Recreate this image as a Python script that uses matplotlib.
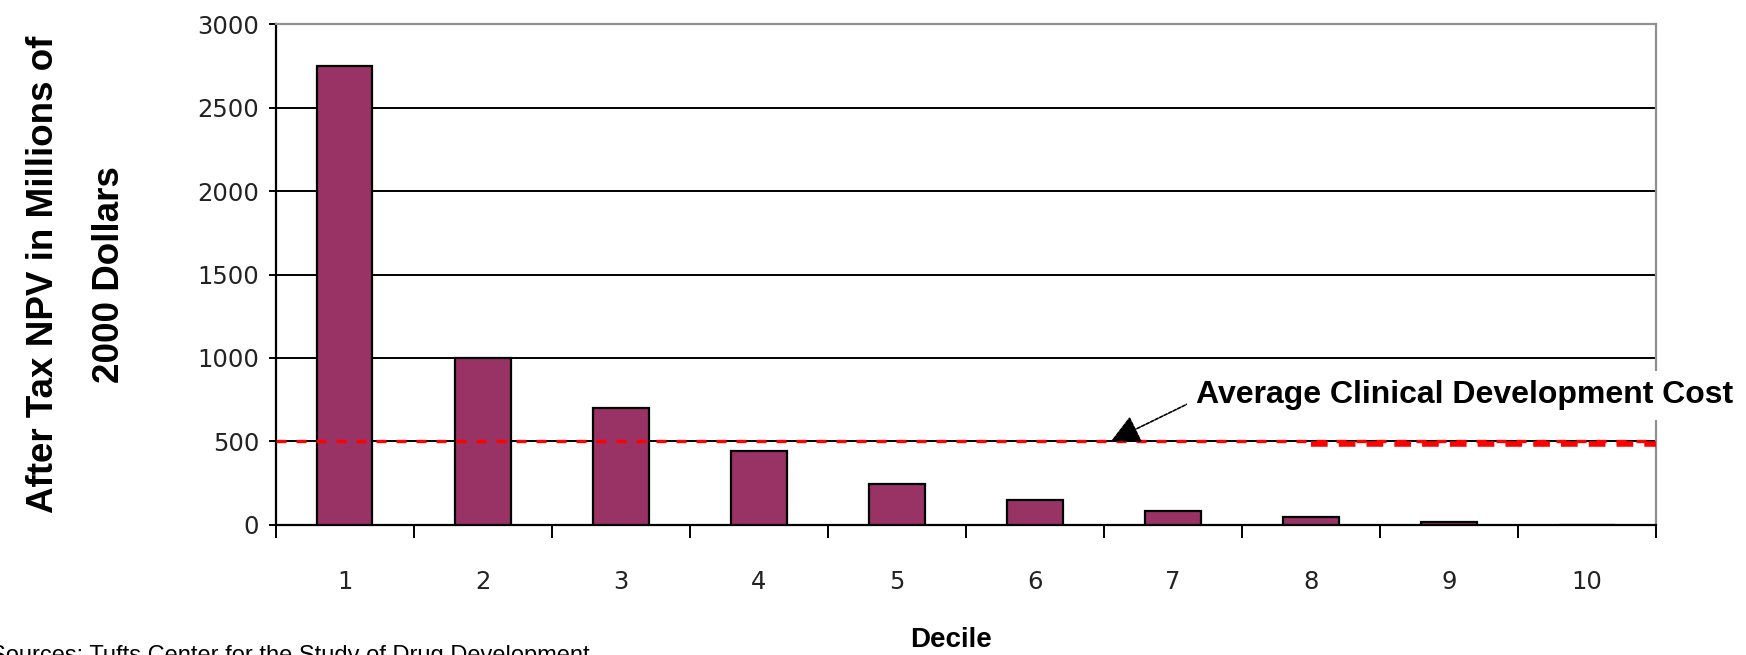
import numpy as np
import matplotlib.pyplot as plt
from matplotlib.ticker import FixedLocator
import matplotlib.transforms as mtransforms

plt.rcParams['font.family'] = ['Liberation Sans', 'DejaVu Sans']

deciles = np.arange(1, 11)
decile_labels = [str(d) for d in deciles]
npv = [2750, 1000, 700, 440, 245, 145, 80, 45, 15, 0]
avg_cost = 500
y_ticks = [0, 500, 1000, 1500, 2000, 2500, 3000]

fig = plt.figure(figsize=(17.46, 6.55), dpi=100)
ax = fig.add_axes([0.158, 0.199, 0.7905, 0.7636])

ax.bar(deciles, npv, width=0.4, color='#993366', edgecolor='black', linewidth=1.6, zorder=3)

ax.set_xlim(0.5, 10.5)
ax.set_ylim(0, 3000)
ax.set_yticks(y_ticks)
ax.yaxis.grid(True, color='black', linewidth=1.4, zorder=1)
ax.set_axisbelow(True)
ax.get_ygridlines()[-1].set_color('#909090')

# category boundaries get the tick marks, labels sit in between
ax.xaxis.set_major_locator(FixedLocator(np.arange(0.5, 11, 1)))
ax.xaxis.set_minor_locator(FixedLocator(deciles))
ax.set_xticklabels([], minor=False)
ax.set_xticklabels(decile_labels, minor=True)
ax.tick_params(axis='x', which='major', direction='out', length=9, width=1.4, color='black')
ax.tick_params(axis='x', which='minor', length=0, pad=33, labelsize=17.5, labelcolor='#222222')
ax.tick_params(axis='y', direction='out', length=5, width=1.4, pad=7, labelsize=17.5, labelcolor='#222222')
for lbl in ax.get_xticklabels(minor=True) + ax.get_yticklabels():
    lbl.set_family('DejaVu Sans')

for side in ['left', 'bottom']:
    ax.spines[side].set_linewidth(1.6)
    ax.spines[side].set_color('black')
for side in ['top', 'right']:
    ax.spines[side].set_linewidth(1.6)
    ax.spines[side].set_color('#909090')

# average clinical development cost line
ax.axhline(avg_cost, color='red', linewidth=2.4, dashes=(3, 3), zorder=4)
shift = mtransforms.offset_copy(ax.transData, fig=fig, x=0, y=-3, units='dots')
ax.hlines(avg_cost, 8.0, 10.5, color='red', linewidth=4, linestyles=(0, (3, 2)), transform=shift, zorder=4)

ax.annotate('', xy=(6.55, avg_cost), xytext=(7.12, 730),
            arrowprops=dict(arrowstyle='-|>,head_length=0.9,head_width=0.45', mutation_scale=20,
                            color='black', linewidth=1.2, linestyle=(0, (2, 1)), shrinkA=0, shrinkB=0),
            zorder=5)
ax.text(7.17, 775, 'Average Clinical Development Cost', fontsize=23, fontweight='bold',
        ha='left', va='center', clip_on=False, zorder=6,
        bbox=dict(facecolor='white', edgecolor='none', pad=7))

ax.set_ylabel('After Tax NPV in Millions of\n2000 Dollars', fontsize=26.5, fontweight='bold',
              linespacing=2.15)
ax.yaxis.set_label_coords(-0.108, 0.5)
ax.set_xlabel('Decile', fontsize=20, fontweight='bold', va='top')
ax.xaxis.set_label_coords(0.489, -0.205)

fig.text(-0.006, 0.0153, 'Sources: Tufts Center for the Study of Drug Development', fontsize=17,
         ha='left', va='top', color='black')

fig.savefig('out.png', dpi=100)
